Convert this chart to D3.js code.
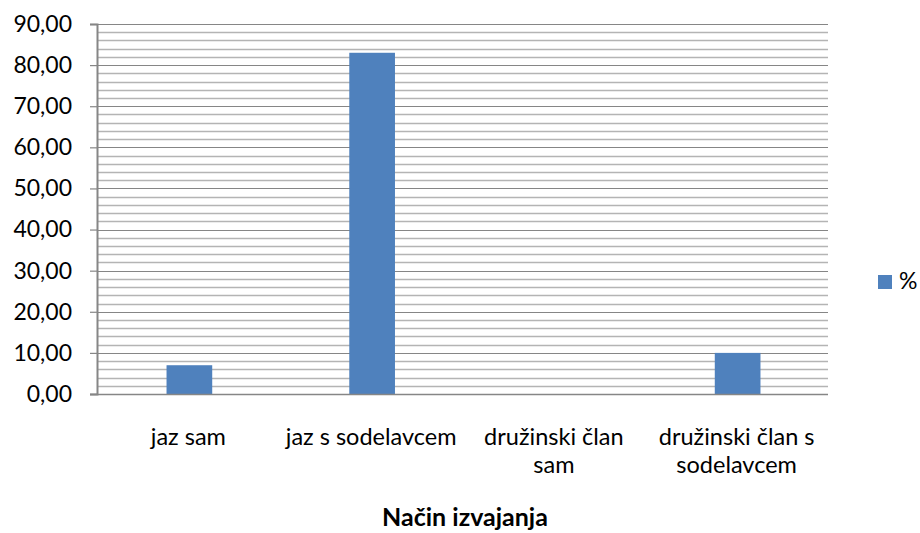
<!DOCTYPE html>
<html>
<head>
<meta charset="utf-8">
<script src="https://cdn.jsdelivr.net/npm/d3@7/dist/d3.min.js"></script>
<style>
  html, body { margin: 0; padding: 0; background: #fff; }
  svg { display: block; }
  text { font-family: Lato, "Open Sans", sans-serif; fill: #000; }
</style>
</head>
<body>
<svg id="chart" width="920" height="533"></svg>
<script>
// ---- data ----
const categories = [["jaz sam"], ["jaz s sodelavcem"], ["družinski član", "sam"], ["družinski član s", "sodelavcem"]];
const values = [7.0, 83.0, 0.0, 10.0];
const seriesName = "%";
const yMax = 90;
const yMajorStep = 10;
const yMinorStep = 2;
const xTitle = "Način izvajanja";

// ---- layout ----
const W = 920, H = 533;
const plot = { left: 97, right: 828, top: 24, bottom: 394 };
const barColor = "#4f81bd";
const majorColor = "#868686";
const minorColor = "#b4b4b4";

const svg = d3.select("#chart");

const x = d3.scaleBand()
  .domain(d3.range(categories.length))
  .range([plot.left, plot.right])
  .paddingInner(0.75)
  .paddingOuter(0.375);

const xCat = d3.scaleBand()
  .domain(d3.range(categories.length))
  .range([plot.left, plot.right]);

const y = d3.scaleLinear().domain([0, yMax]).range([plot.bottom, plot.top]);

// minor gridlines
const minorTicks = d3.range(0, yMax + 0.001, yMinorStep).filter(v => v % yMajorStep !== 0);
svg.append("g").selectAll("line").data(minorTicks).join("line")
  .attr("x1", plot.left).attr("x2", plot.right)
  .attr("y1", d => Math.round(y(d)) + 0.5).attr("y2", d => Math.round(y(d)) + 0.5)
  .attr("stroke", minorColor).attr("stroke-width", 1.3);

// major gridlines
const majorTicks = d3.range(0, yMax + 0.001, yMajorStep);
svg.append("g").selectAll("line").data(majorTicks.filter(v => v > 0)).join("line")
  .attr("x1", plot.left).attr("x2", plot.right)
  .attr("y1", d => Math.round(y(d)) + 0.5).attr("y2", d => Math.round(y(d)) + 0.5)
  .attr("stroke", majorColor).attr("stroke-width", 1.2);

// bars
svg.append("g").selectAll("rect").data(values).join("rect")
  .attr("x", (d, i) => x(i) + 1)
  .attr("width", x.bandwidth())
  .attr("y", d => y(d))
  .attr("height", d => y(0) - y(d))
  .attr("fill", barColor);

// y axis
const yAxis = d3.axisLeft(y)
  .tickValues(majorTicks)
  .tickSize(7)
  .tickPadding(18)
  .tickFormat(d => d3.format(".2f")(d).replace(".", ","));
const gy = svg.append("g")
  .attr("transform", `translate(${plot.left},0)`)
  .call(yAxis);
gy.select(".domain").attr("stroke", majorColor).attr("stroke-width", 2);
gy.selectAll(".tick line").attr("stroke", majorColor).attr("stroke-width", 1.2);
gy.selectAll(".tick text")
  .attr("font-family", "Lato, sans-serif")
  .attr("font-size", 23)
  .attr("fill", "#000");

// x baseline
svg.append("line")
  .attr("x1", plot.left - 7).attr("x2", plot.right)
  .attr("y1", y(0) + 0.5).attr("y2", y(0) + 0.5)
  .attr("stroke", majorColor).attr("stroke-width", 1.5);

// category labels
const catG = svg.append("g");
categories.forEach((lines, i) => {
  const t = catG.append("text")
    .attr("x", xCat(i) + xCat.bandwidth() / 2)
    .attr("y", 445)
    .attr("text-anchor", "middle")
    .attr("font-size", 23.5);
  lines.forEach((ln, j) => {
    t.append("tspan")
      .attr("x", xCat(i) + xCat.bandwidth() / 2)
      .attr("dy", j === 0 ? 0 : 28)
      .text(ln);
  });
});

// x title
svg.append("text")
  .attr("x", 465)
  .attr("y", 526)
  .attr("text-anchor", "middle")
  .attr("font-size", 25)
  .attr("font-weight", "bold")
  .text(xTitle);

// legend
const lg = svg.append("g").attr("transform", "translate(878,275)");
lg.append("rect").attr("width", 14).attr("height", 14).attr("fill", barColor);
lg.append("text").attr("x", 21).attr("y", 14).attr("font-size", 23).text(seriesName);
</script>
</body>
</html>
